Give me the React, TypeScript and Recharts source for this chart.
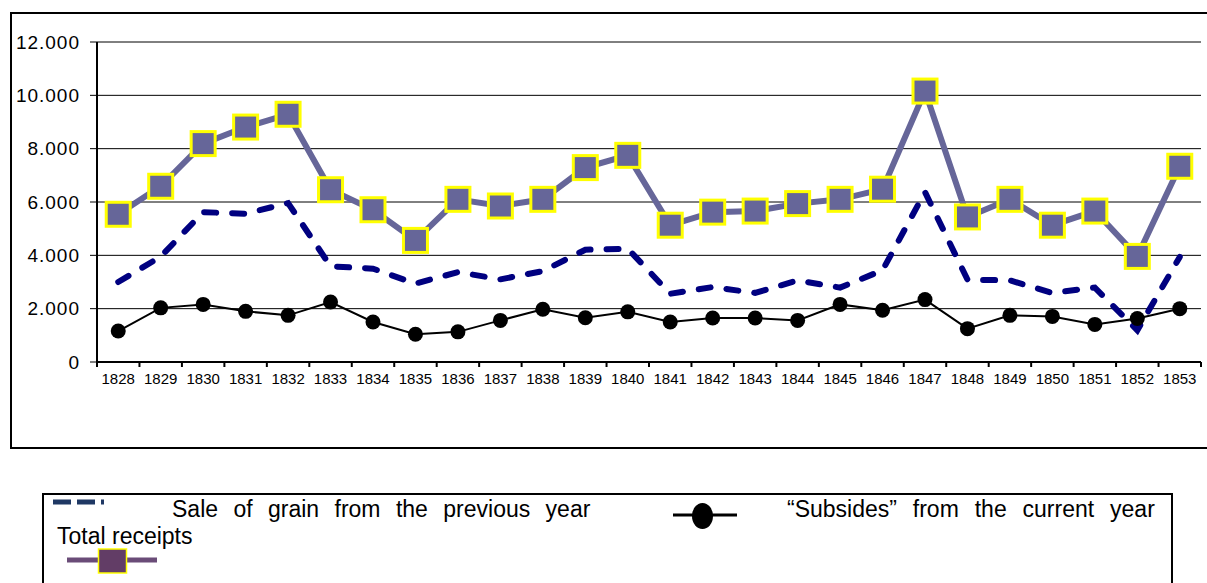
import React from 'react';
import { ComposedChart, Line, XAxis, YAxis, CartesianGrid, Legend } from 'recharts';

const years = ['1828', '1829', '1830', '1831', '1832', '1833', '1834', '1835', '1836', '1837', '1838', '1839', '1840', '1841', '1842', '1843', '1844', '1845', '1846', '1847', '1848', '1849', '1850', '1851', '1852', '1853'];
const saleOfGrain = [3000, 3950, 5620, 5560, 5960, 3590, 3500, 2940, 3370, 3100, 3410, 4210, 4250, 2560, 2810, 2590, 3060, 2790, 3440, 6370, 3090, 3060, 2590, 2790, 1190, 3940];
const subsides = [1160, 2030, 2160, 1900, 1750, 2250, 1500, 1040, 1130, 1560, 1980, 1660, 1880, 1500, 1650, 1650, 1560, 2160, 1940, 2340, 1250, 1750, 1710, 1410, 1630, 2000];
const totalReceipts = [5540, 6590, 8190, 8810, 9290, 6460, 5710, 4560, 6100, 5850, 6100, 7290, 7750, 5130, 5620, 5660, 5940, 6100, 6480, 10160, 5440, 6100, 5130, 5660, 3960, 7340];
const yTicks = [0, 2000, 4000, 6000, 8000, 10000, 12000];

const legendLabels = {
  sale: 'Sale of grain from the previous year',
  subsides: '\u201CSubsides\u201D from the current year',
  total: 'Total receipts',
};

const data = years.map((year, i) => ({
  year,
  sale: saleOfGrain[i],
  subsides: subsides[i],
  total: totalReceipts[i],
}));

const FONT = '"Liberation Sans", Arial, Helvetica, sans-serif';
const TICK_GAP = 11;

const fmt = (v: number) => String(v).replace(/\B(?=(\d{3})+(?!\d))/g, '.');

const SquareDot = (props: any) => {
  const { cx, cy, index } = props;
  if (cx == null || cy == null) return <g key={`sq-${index}`} />;
  return (
    <rect
      key={`sq-${index}`}
      x={cx - 12}
      y={cy - 12}
      width={24}
      height={24}
      fill="#666699"
      stroke="#FFFF00"
      strokeWidth={3}
    />
  );
};

const YearTick = (props: any) => {
  const { x, y, payload, width, index, visibleTicksCount } = props;
  const count = visibleTicksCount || years.length;
  const half = payload && payload.offset ? payload.offset : width / count / 2;
  const axisY = y - TICK_GAP;
  const isLast = index === count - 1;
  return (
    <g>
      <line x1={x - half} x2={x - half} y1={axisY} y2={axisY + 5} stroke="#000" strokeWidth={2} />
      {isLast && <line x1={x + half} x2={x + half} y1={axisY} y2={axisY + 5} stroke="#000" strokeWidth={2} />}
      <text x={x} y={y} dy="0.71em" textAnchor="middle" fill="#000" fontSize={15} fontFamily={FONT}>
        {payload.value}
      </text>
    </g>
  );
};

const LegendBox = () => (
  <svg width={1131} height={100} style={{ display: 'block', overflow: 'visible' }}>
    <rect x={1} y={1} width={1129} height={110} fill="none" stroke="#000" strokeWidth={2} />
    <line x1={11} x2={62} y1={9} y2={9} stroke="#1F3864" strokeWidth={5} strokeDasharray="18 6" />
    <text x={130} y={24} fontFamily={FONT} fontSize={23} fill="#000" style={{ wordSpacing: '9px' }}>
      {legendLabels.sale}
    </text>
    <line x1={631} x2={695} y1={22} y2={22} stroke="#000" strokeWidth={3} />
    <ellipse cx={660.5} cy={23} rx={10.5} ry={13} fill="#000" />
    <text x={745} y={24} fontFamily={FONT} fontSize={23} fill="#000" style={{ wordSpacing: '9.5px' }}>
      {legendLabels.subsides}
    </text>
    <text x={15} y={50.5} fontFamily={FONT} fontSize={23} fill="#000">
      {legendLabels.total}
    </text>
    <line x1={25} x2={115} y1={67} y2={67} stroke="#6A4C78" strokeWidth={5} />
    <rect x={56.5} y={56} width={28} height={24} fill="#623D66" stroke="#FFFF00" strokeWidth={1.5} />
  </svg>
);

export default function App() {
  return (
    <div style={{ position: 'relative', width: 1207, height: 583, overflow: 'hidden', background: '#fff', fontFamily: FONT }}>
      <style>{'body{margin:0;background:#fff;}'}</style>
      <div
        style={{
          position: 'absolute',
          left: 10,
          top: 12,
          width: 1220,
          height: 437,
          border: '2px solid #000',
          boxSizing: 'border-box',
        }}
      />
      <div style={{ position: 'absolute', left: 0, top: 0 }}>
        <ComposedChart width={1207} height={583} data={data} margin={{ top: 42, right: 6, bottom: 91, left: 0 }}>
          <CartesianGrid horizontal vertical={false} stroke="#000" strokeWidth={1} />
          <XAxis
            dataKey="year"
            scale="band"
            interval={0}
            height={30}
            axisLine={{ stroke: '#000', strokeWidth: 2 }}
            tickLine={false}
            tickSize={0}
            tickMargin={TICK_GAP}
            tick={YearTick}
          />
          <YAxis
            domain={[0, 12000]}
            ticks={yTicks}
            width={97}
            tickFormatter={fmt}
            tickSize={7}
            tickMargin={10}
            axisLine={{ stroke: '#000', strokeWidth: 2 }}
            tickLine={{ stroke: '#000', strokeWidth: 1 }}
            tick={{ fill: '#000', fontSize: 19, fontFamily: FONT, letterSpacing: 1 }}
          />
          <YAxis
            yAxisId="right"
            orientation="right"
            width={0}
            domain={[0, 12000]}
            tick={false}
            tickLine={false}
            axisLine={{ stroke: '#000', strokeWidth: 1.5 }}
          />
          <Legend
            verticalAlign="bottom"
            content={() => <LegendBox />}
            wrapperStyle={{ position: 'absolute', left: 42, top: 493, width: 1131, height: 100 }}
          />
          <Line
            dataKey="total"
            name={legendLabels.total}
            stroke="#666699"
            strokeWidth={6}
            dot={SquareDot}
            activeDot={false}
            isAnimationActive={false}
          />
          <Line
            dataKey="sale"
            name={legendLabels.sale}
            stroke="#000080"
            strokeWidth={6}
            strokeDasharray="12 16"
            strokeLinecap="round"
            dot={false}
            activeDot={false}
            isAnimationActive={false}
          />
          <Line
            dataKey="subsides"
            name={legendLabels.subsides}
            stroke="#000"
            strokeWidth={2}
            dot={{ r: 7.5, fill: '#000', stroke: '#000', strokeWidth: 0 }}
            activeDot={false}
            isAnimationActive={false}
          />
        </ComposedChart>
      </div>
    </div>
  );
}
